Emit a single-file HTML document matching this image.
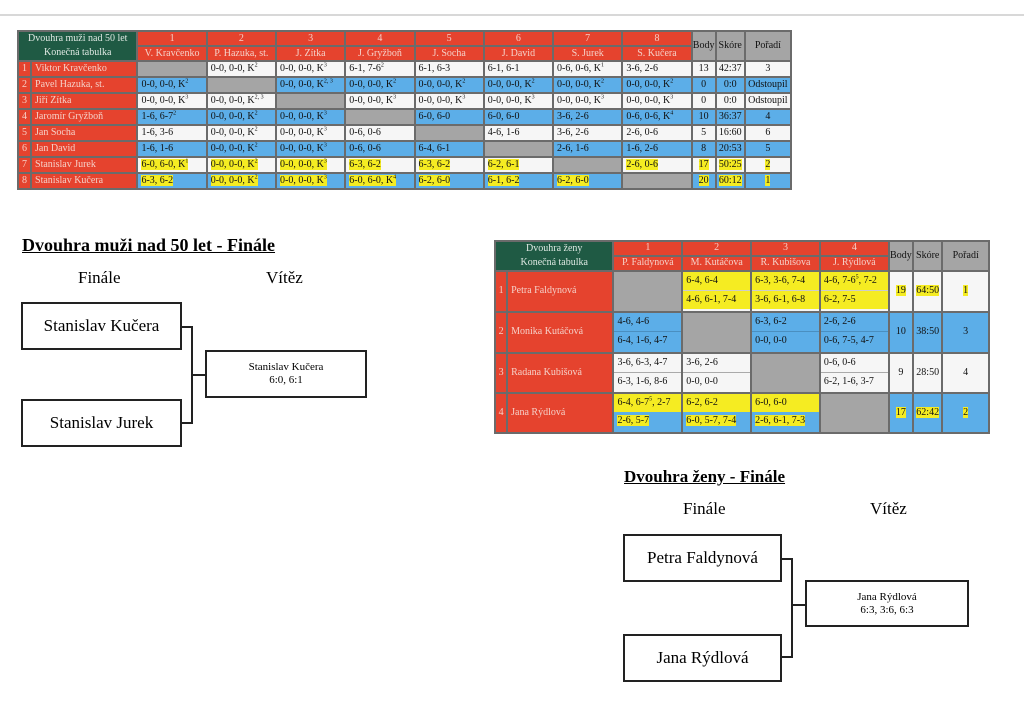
<!DOCTYPE html>
<html><head><meta charset="utf-8"><style>
body{margin:0;width:1024px;height:724px;background:#fff;position:relative;overflow:hidden;font-family:"Liberation Serif",serif;}
.abs{position:absolute}
table.t{position:absolute;border-collapse:separate;border-spacing:2px;background:#6b6b6b;table-layout:fixed;font-size:10px;}
table.t td{padding:0 3px;white-space:nowrap;overflow:hidden;line-height:12px;}
.r{background:#e5432e;color:#f5d0c8;text-align:center}
.rn{background:#e5432e;color:#f5d0c8;text-align:left}
.g{background:#1f5a44;color:#dfe9e3;text-align:center;line-height:14px!important}
.gr{background:#a5a5a5}
.gh{background:#a5a5a5;text-align:center;color:#111}
.w{background:#f6f6f6;color:#111}
.b{background:#5caee8;color:#111}
.c{text-align:center}
.y{background:#f5ec22}
sup{font-size:6px;line-height:0}
.box{position:absolute;border:2px solid #222;background:#fff;text-align:center;font-family:"Liberation Serif",serif}
.ln{position:absolute;background:#222}
.half{height:18px;line-height:18px}
.tw td{vertical-align:top}
</style></head><body>
<div class="abs" style="left:0;top:14px;width:1024px;height:2px;background:#d8d8d8"></div>

<table class="t" style="left:17px;top:30px;width:775px;height:160px">
<colgroup><col style="width:11px"><col style="width:104px"><col span="8" style="width:67px"><col style="width:22px"><col style="width:27px"><col style="width:44px"></colgroup>
<tr style="height:13px"><td class="g" colspan="2" rowspan="2">Dvouhra muži nad 50 let<br>Konečná tabulka</td><td class="r">1</td><td class="r">2</td><td class="r">3</td><td class="r">4</td><td class="r">5</td><td class="r">6</td><td class="r">7</td><td class="r">8</td><td class="gh" rowspan="2" style="padding:0">Body</td><td class="gh" rowspan="2" style="padding:0">Skóre</td><td class="gh" rowspan="2">Pořadí</td></tr>
<tr style="height:13px"><td class="r">V. Kravčenko</td><td class="r">P. Hazuka, st.</td><td class="r">J. Zítka</td><td class="r">J. Gryžboň</td><td class="r">J. Socha</td><td class="r">J. David</td><td class="r">S. Jurek</td><td class="r">S. Kučera</td></tr>
<tr><td class="r" style="padding:0">1</td><td class="rn">Viktor Kravčenko</td><td class="gr"></td><td class="w">0-0, 0-0, K<sup>2</sup></td><td class="w">0-0, 0-0, K<sup>3</sup></td><td class="w">6-1, 7-6<sup>2</sup></td><td class="w">6-1, 6-3</td><td class="w">6-1, 6-1</td><td class="w">0-6, 0-6, K<sup>1</sup></td><td class="w">3-6, 2-6</td><td class="w c">13</td><td class="w c" style="padding:0">42:37</td><td class="w c">3</td></tr>
<tr><td class="r" style="padding:0">2</td><td class="rn">Pavel Hazuka, st.</td><td class="b">0-0, 0-0, K<sup>2</sup></td><td class="gr"></td><td class="b">0-0, 0-0, K<sup>2, 3</sup></td><td class="b">0-0, 0-0, K<sup>2</sup></td><td class="b">0-0, 0-0, K<sup>2</sup></td><td class="b">0-0, 0-0, K<sup>2</sup></td><td class="b">0-0, 0-0, K<sup>2</sup></td><td class="b">0-0, 0-0, K<sup>2</sup></td><td class="b c">0</td><td class="b c" style="padding:0">0:0</td><td class="b c" style="padding:0">Odstoupil</td></tr>
<tr><td class="r" style="padding:0">3</td><td class="rn">Jiří Zítka</td><td class="w">0-0, 0-0, K<sup>3</sup></td><td class="w">0-0, 0-0, K<sup>2, 3</sup></td><td class="gr"></td><td class="w">0-0, 0-0, K<sup>3</sup></td><td class="w">0-0, 0-0, K<sup>3</sup></td><td class="w">0-0, 0-0, K<sup>3</sup></td><td class="w">0-0, 0-0, K<sup>3</sup></td><td class="w">0-0, 0-0, K<sup>3</sup></td><td class="w c">0</td><td class="w c" style="padding:0">0:0</td><td class="w c" style="padding:0">Odstoupil</td></tr>
<tr><td class="r" style="padding:0">4</td><td class="rn">Jaromír Gryžboň</td><td class="b">1-6, 6-7<sup>2</sup></td><td class="b">0-0, 0-0, K<sup>2</sup></td><td class="b">0-0, 0-0, K<sup>3</sup></td><td class="gr"></td><td class="b">6-0, 6-0</td><td class="b">6-0, 6-0</td><td class="b">3-6, 2-6</td><td class="b">0-6, 0-6, K<sup>4</sup></td><td class="b c">10</td><td class="b c" style="padding:0">36:37</td><td class="b c">4</td></tr>
<tr><td class="r" style="padding:0">5</td><td class="rn">Jan Socha</td><td class="w">1-6, 3-6</td><td class="w">0-0, 0-0, K<sup>2</sup></td><td class="w">0-0, 0-0, K<sup>3</sup></td><td class="w">0-6, 0-6</td><td class="gr"></td><td class="w">4-6, 1-6</td><td class="w">3-6, 2-6</td><td class="w">2-6, 0-6</td><td class="w c">5</td><td class="w c" style="padding:0">16:60</td><td class="w c">6</td></tr>
<tr><td class="r" style="padding:0">6</td><td class="rn">Jan David</td><td class="b">1-6, 1-6</td><td class="b">0-0, 0-0, K<sup>2</sup></td><td class="b">0-0, 0-0, K<sup>3</sup></td><td class="b">0-6, 0-6</td><td class="b">6-4, 6-1</td><td class="gr"></td><td class="b">2-6, 1-6</td><td class="b">1-6, 2-6</td><td class="b c">8</td><td class="b c" style="padding:0">20:53</td><td class="b c">5</td></tr>
<tr><td class="r" style="padding:0">7</td><td class="rn">Stanislav Jurek</td><td class="w"><span class="y">6-0, 6-0, K<sup>1</sup></span></td><td class="w"><span class="y">0-0, 0-0, K<sup>2</sup></span></td><td class="w"><span class="y">0-0, 0-0, K<sup>3</sup></span></td><td class="w"><span class="y">6-3, 6-2</span></td><td class="w"><span class="y">6-3, 6-2</span></td><td class="w"><span class="y">6-2, 6-1</span></td><td class="gr"></td><td class="w"><span class="y">2-6, 0-6</span></td><td class="w c"><span class="y">17</span></td><td class="w c" style="padding:0"><span class="y">50:25</span></td><td class="w c"><span class="y">2</span></td></tr>
<tr><td class="r" style="padding:0">8</td><td class="rn">Stanislav Kučera</td><td class="b"><span class="y">6-3, 6-2</span></td><td class="b"><span class="y">0-0, 0-0, K<sup>2</sup></span></td><td class="b"><span class="y">0-0, 0-0, K<sup>3</sup></span></td><td class="b"><span class="y">6-0, 6-0, K<sup>4</sup></span></td><td class="b"><span class="y">6-2, 6-0</span></td><td class="b"><span class="y">6-1, 6-2</span></td><td class="b"><span class="y">6-2, 6-0</span></td><td class="gr"></td><td class="b c"><span class="y">20</span></td><td class="b c" style="padding:0"><span class="y">60:12</span></td><td class="b c"><span class="y">1</span></td></tr>
</table>

<div class="abs" style="left:22px;top:235px;font-size:18px;font-weight:bold;text-decoration:underline">Dvouhra muži nad 50 let - Finále</div>
<div class="abs" style="left:78px;top:268px;font-size:17px">Finále</div>
<div class="abs" style="left:266px;top:268px;font-size:17px">Vítěz</div>
<div class="box" style="left:21px;top:302px;width:157px;height:44px;line-height:44px;font-size:17px">Stanislav Kučera</div>
<div class="box" style="left:21px;top:399px;width:157px;height:44px;line-height:44px;font-size:17px">Stanislav Jurek</div>
<div class="ln" style="left:182px;top:326px;width:10px;height:2px"></div>
<div class="ln" style="left:191px;top:326px;width:2px;height:98px"></div>
<div class="ln" style="left:182px;top:422px;width:10px;height:2px"></div>
<div class="ln" style="left:191px;top:374px;width:15px;height:2px"></div>
<div class="box" style="left:205px;top:350px;width:158px;height:44px;font-size:11px;line-height:13px"><div style="margin-top:9px">Stanislav Kučera<br>6:0, 6:1</div></div>

<table class="t tw" style="left:494px;top:240px;width:496px;height:194px">
<colgroup><col style="width:10px"><col style="width:103px"><col span="4" style="width:66px"><col style="width:22px"><col style="width:27px"><col style="width:44px"></colgroup>
<tr style="height:13px"><td class="g" colspan="2" rowspan="2" style="vertical-align:middle">Dvouhra ženy<br>Konečná tabulka</td><td class="r">1</td><td class="r">2</td><td class="r">3</td><td class="r">4</td><td class="gh" rowspan="2" style="padding:0;vertical-align:middle">Body</td><td class="gh" rowspan="2" style="padding:0;vertical-align:middle">Skóre</td><td class="gh" rowspan="2" style="vertical-align:middle">Pořadí</td></tr>
<tr style="height:13px"><td class="r">P. Faldynová</td><td class="r">M. Kutáčova</td><td class="r">R. Kubišova</td><td class="r">J. Rýdlová</td></tr>
<tr><td class="r" style="padding:0;vertical-align:middle">1</td><td class="rn" style="vertical-align:middle">Petra Faldynová</td><td class="gr"></td>
<td class="w" style="padding:0"><div class="half y" style="padding-left:3px;border-bottom:1px solid #ccc">6-4, 6-4</div><div class="half y" style="padding-left:3px">4-6, 6-1, 7-4</div></td>
<td class="w" style="padding:0"><div class="half y" style="padding-left:3px;border-bottom:1px solid #ccc">6-3, 3-6, 7-4</div><div class="half y" style="padding-left:3px">3-6, 6-1, 6-8</div></td>
<td class="w" style="padding:0"><div class="half y" style="padding-left:3px;border-bottom:1px solid #ccc">4-6, 7-6<sup>5</sup>, 7-2</div><div class="half y" style="padding-left:3px">6-2, 7-5</div></td>
<td class="w c" style="vertical-align:middle"><span class="y">19</span></td><td class="w c" style="padding:0;vertical-align:middle"><span class="y">64:50</span></td><td class="w c" style="vertical-align:middle"><span class="y">1</span></td></tr>
<tr><td class="r" style="padding:0;vertical-align:middle">2</td><td class="rn" style="vertical-align:middle">Monika Kutáčová</td>
<td class="b" style="padding:0"><div class="half" style="padding-left:3px;border-bottom:1px solid #4a8fc0">4-6, 4-6</div><div class="half" style="padding-left:3px">6-4, 1-6, 4-7</div></td>
<td class="gr"></td>
<td class="b" style="padding:0"><div class="half" style="padding-left:3px;border-bottom:1px solid #4a8fc0">6-3, 6-2</div><div class="half" style="padding-left:3px">0-0, 0-0</div></td>
<td class="b" style="padding:0"><div class="half" style="padding-left:3px;border-bottom:1px solid #4a8fc0">2-6, 2-6</div><div class="half" style="padding-left:3px">0-6, 7-5, 4-7</div></td>
<td class="b c" style="vertical-align:middle">10</td><td class="b c" style="padding:0;vertical-align:middle">38:50</td><td class="b c" style="vertical-align:middle">3</td></tr>
<tr><td class="r" style="padding:0;vertical-align:middle">3</td><td class="rn" style="vertical-align:middle">Radana Kubišová</td>
<td class="w" style="padding:0"><div class="half" style="padding-left:3px;border-bottom:1px solid #aaa">3-6, 6-3, 4-7</div><div class="half" style="padding-left:3px">6-3, 1-6, 8-6</div></td>
<td class="w" style="padding:0"><div class="half" style="padding-left:3px;border-bottom:1px solid #aaa">3-6, 2-6</div><div class="half" style="padding-left:3px">0-0, 0-0</div></td>
<td class="gr"></td>
<td class="w" style="padding:0"><div class="half" style="padding-left:3px;border-bottom:1px solid #aaa">0-6, 0-6</div><div class="half" style="padding-left:3px">6-2, 1-6, 3-7</div></td>
<td class="w c" style="vertical-align:middle">9</td><td class="w c" style="padding:0;vertical-align:middle">28:50</td><td class="w c" style="vertical-align:middle">4</td></tr>
<tr><td class="r" style="padding:0;vertical-align:middle">4</td><td class="rn" style="vertical-align:middle">Jana Rýdlová</td>
<td class="b" style="padding:0"><div class="half y" style="padding-left:3px">6-4, 6-7<sup>5</sup>, 2-7</div><div class="half" style="padding-left:3px"><span class="y">2-6, 5-7</span></div></td>
<td class="b" style="padding:0"><div class="half y" style="padding-left:3px">6-2, 6-2</div><div class="half" style="padding-left:3px"><span class="y">6-0, 5-7, 7-4</span></div></td>
<td class="b" style="padding:0"><div class="half y" style="padding-left:3px">6-0, 6-0</div><div class="half" style="padding-left:3px"><span class="y">2-6, 6-1, 7-3</span></div></td>
<td class="gr"></td>
<td class="b c" style="vertical-align:middle"><span class="y">17</span></td><td class="b c" style="padding:0;vertical-align:middle"><span class="y">62:42</span></td><td class="b c" style="vertical-align:middle"><span class="y">2</span></td></tr>
</table>

<div class="abs" style="left:624px;top:467px;font-size:17px;font-weight:bold;text-decoration:underline">Dvouhra ženy - Finále</div>
<div class="abs" style="left:683px;top:499px;font-size:17px">Finále</div>
<div class="abs" style="left:870px;top:499px;font-size:17px">Vítěz</div>
<div class="box" style="left:623px;top:534px;width:155px;height:44px;line-height:44px;font-size:17px">Petra Faldynová</div>
<div class="box" style="left:623px;top:634px;width:155px;height:44px;line-height:44px;font-size:17px">Jana Rýdlová</div>
<div class="ln" style="left:782px;top:558px;width:10px;height:2px"></div>
<div class="ln" style="left:791px;top:558px;width:2px;height:100px"></div>
<div class="ln" style="left:782px;top:656px;width:10px;height:2px"></div>
<div class="ln" style="left:791px;top:604px;width:15px;height:2px"></div>
<div class="box" style="left:805px;top:580px;width:160px;height:43px;font-size:11px;line-height:13px"><div style="margin-top:9px">Jana Rýdlová<br>6:3, 3:6, 6:3</div></div>
</body></html>
